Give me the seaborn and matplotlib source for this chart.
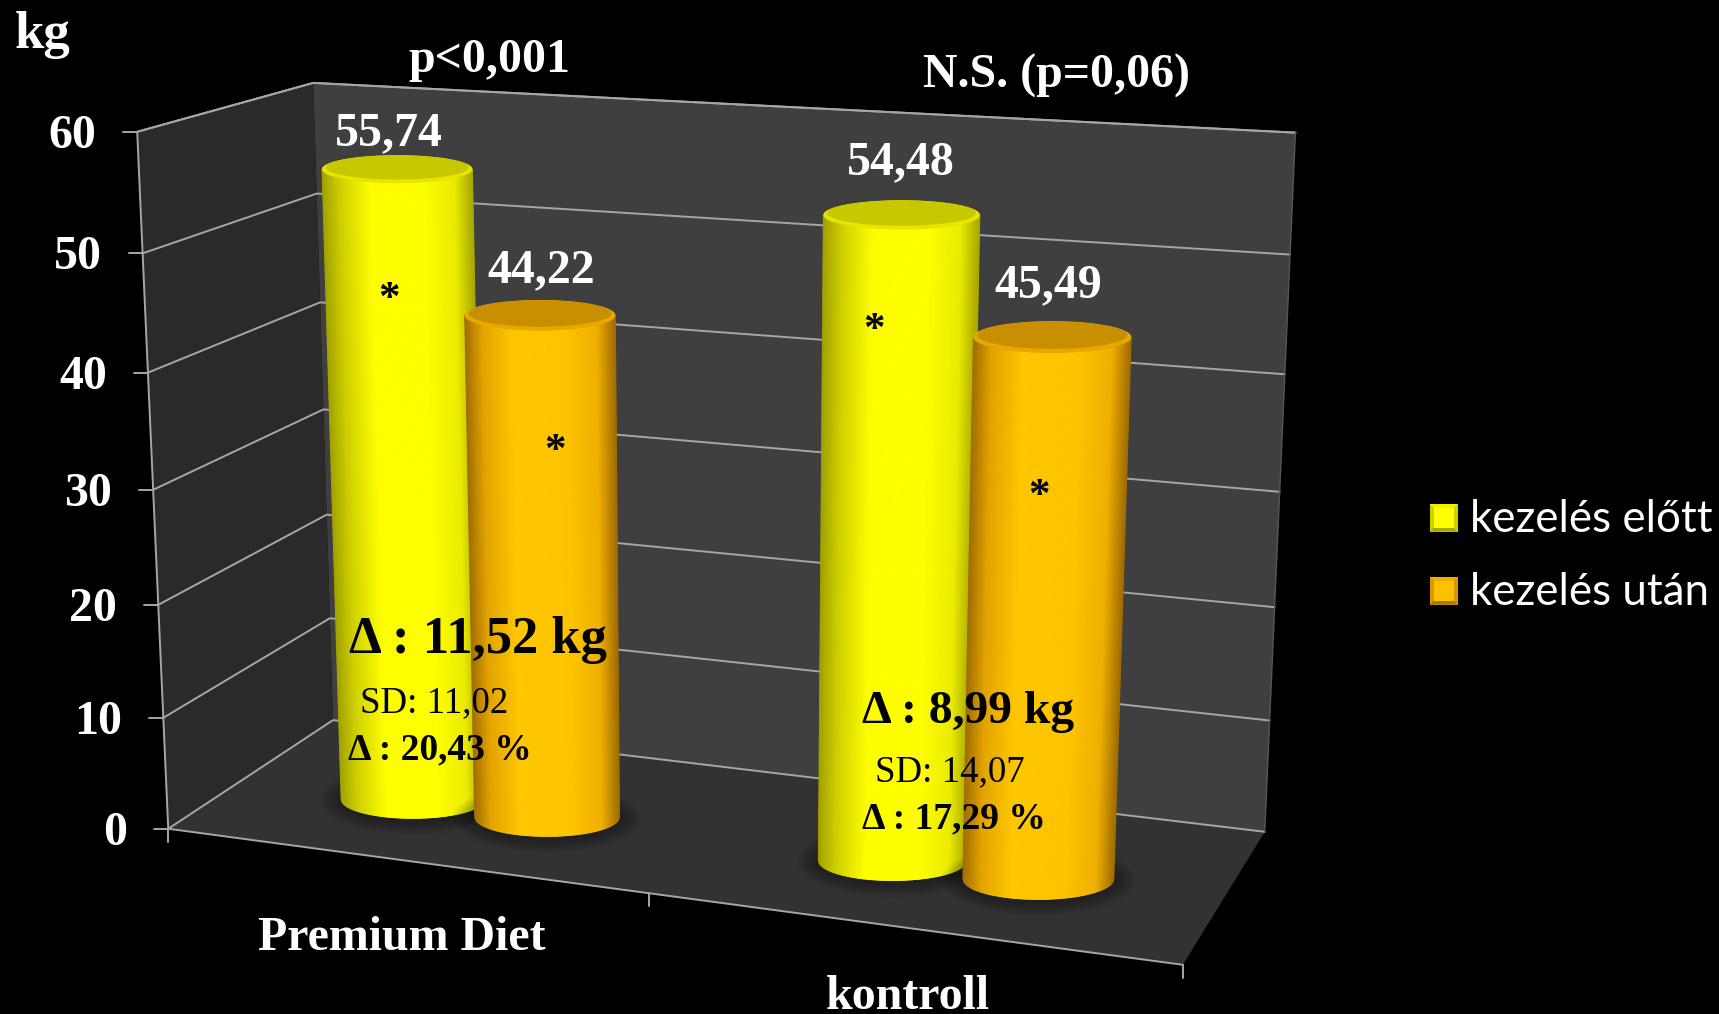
import numpy as np
import pandas as pd
import seaborn as sns
import matplotlib
matplotlib.use("Agg")
import matplotlib.pyplot as plt

# adatok
categories = ["Premium Diet", "kontroll"]
series = ["kezelés előtt", "kezelés után"]
before = [55.74, 54.48]
after = [44.22, 45.49]
delta_kg = ["11,52", "8,99"]
sd = ["11,02", "14,07"]
delta_pct = ["20,43", "17,29"]
p_labels = ["p<0,001", "N.S. (p=0,06)"]
y_ticks = [0, 10, 20, 30, 40, 50, 60]

sns.set_theme(style="dark", rc={"figure.facecolor": "black", "axes.facecolor": "black"})
plt.rcParams["font.family"] = ["Liberation Serif", "DejaVu Serif"]

fig = plt.figure(figsize=(17.19, 10.14), dpi=100)
ax = fig.add_axes([0, 0, 1, 1])

# kamera illesztese a 3D doboz sarkaira (x kategoria, d melyseg, v kg)
calib = [
    (0, 0, 0, 168, 829), (0, 0, 10, 164, 717), (0, 0, 20, 158, 604), (0, 0, 30, 154, 490),
    (0, 0, 40, 147, 373), (0, 0, 50, 142, 254), (0, 0, 60, 137.5, 132),
    (0, 1, 0, 332, 720), (0, 1, 10, 330, 618), (0, 1, 20, 327, 517), (0, 1, 30, 324, 409),
    (0, 1, 40, 321, 302), (0, 1, 50, 317, 193), (0, 1, 60, 312.5, 82.3),
    (2, 1, 0, 1264.6, 832), (2, 1, 10, 1269, 720), (2, 1, 20, 1275, 607), (2, 1, 30, 1280, 492),
    (2, 1, 40, 1285, 374), (2, 1, 50, 1290, 255), (2, 1, 60, 1295, 132.7),
    (2, 0, 0, 1183.6, 965), (1, 0, 0, 648, 893),
]
rows = []
for x, d, v, px, py in calib:
    X = [x, d, v / 60, 1]
    u, w = px / 1000, py / 1000
    rows.append(X + [0, 0, 0, 0] + [-u * c for c in X])
    rows.append([0, 0, 0, 0] + X + [-w * c for c in X])
P = np.linalg.svd(np.array(rows))[2][-1].reshape(3, 4)


def proj(x, d, v):
    q = P @ np.array([x, d, v / 60, 1.0])
    return q[0] / q[2] * 1000, q[1] / q[2] * 1000


def plane(pts, **kw):
    xy = np.array([proj(*p) for p in pts], dtype=float)
    ax.fill(xy[:, 0], xy[:, 1], lw=0, **kw)


plane([(0, 0, 0), (0, 1, 0), (0, 1, 60), (0, 0, 60)], color="#2a2a2a", zorder=1)
plane([(0, 1, 0), (2, 1, 0), (2, 1, 60), (0, 1, 60)], color="#3f3f3f", zorder=1)
plane([(0, 0, 0), (2, 0, 0), (2, 1, 0), (0, 1, 0)], color="#323232", zorder=1)

# racsvonalak
grid = []
n = 0
for t in y_ticks:
    for xx, dd in [(0, 0), (0, 1), (2, 1)]:
        px, py = proj(xx, dd, t)
        grid.append({"line": n, "px": px, "py": py})
    n += 1
for pts in ([(0, 0, 0), (0, 0, 60)], [(0, 0, 0), (2, 0, 0)], [(0, 0, 60), (0, 1, 60), (2, 1, 60)]):
    for p in pts:
        px, py = proj(*p)
        grid.append({"line": n, "px": px, "py": py})
    n += 1
grid = pd.DataFrame(grid)
sns.lineplot(data=grid, x="px", y="py", units="line", estimator=None, sort=False,
             color="#a6a6a6", lw=1.4, legend=False, ax=ax, zorder=2)

# jelolovonalak
for t in y_ticks:
    px, py = proj(0, 0, t)
    ax.plot([px - 14, px], [py, py], color="#a6a6a6", lw=1.4, zorder=2)
    ax.text(px - 41, py + 16, str(t), color="white", fontsize=34.5, fontweight="bold",
            ha="right", va="baseline", zorder=6)
for xx in [0, 1, 2]:
    px, py = proj(xx, 0, 0)
    ax.plot([px, px], [py, py + 13], color="#a6a6a6", lw=1.4, zorder=2)
px, py = proj(2, 1, 0)
qx, qy = proj(2, 1, 60)
ax.plot([px, qx], [py, qy], color="#565656", lw=1, zorder=2)

yellow_stops = ["#a0a000", "#d0d000", "#ffff00", "#ffff00", "#ecec00", "#a8a800"]
orange_stops = ["#a06c00", "#e4a400", "#ffc800", "#ffc400", "#f0b000", "#a06c00"]
stop_pos = [0, 0.12, 0.32, 0.68, 0.88, 1]
rd = 0.09


def ellipse_size(xc, dc, v, rx):
    a = (proj(xc + rx, dc, v)[0] - proj(xc - rx, dc, v)[0]) / 2
    b = 9 + rd * (proj(xc, 0, v)[1] - proj(xc, 1, v)[1])
    return a, b


def cylinder(xc, dc, value, rx, stops, cap, rim, z):
    bx, by = proj(xc, dc, 0)
    tx, ty = proj(xc, dc, value)
    ba, bb = ellipse_size(xc, dc, 0, rx)
    ta, tb = ellipse_size(xc, dc, value, rx)
    th = np.linspace(0, 2 * np.pi, 181)
    # arnyek a padlon
    for k in range(7):
        ax.fill(bx + (ba + 3 * (k + 1)) * np.cos(th), by + 1 + (bb + 2.2 * (k + 1)) * np.sin(th),
                color="black", alpha=0.05, lw=0, zorder=z - 0.5)
    rgb = np.array(sns.color_palette(stops))
    us = np.linspace(-1, 1, 161)
    for u0, u1 in zip(us[:-1], us[1:]):
        t = (u0 + u1 + 2) / 4
        col = [np.interp(t, stop_pos, rgb[:, c]) for c in range(3)]
        xs = [bx + ba * u0, bx + ba * u1, tx + ta * u1, tx + ta * u0]
        ys = [by + bb * np.sqrt(1 - u0 ** 2), by + bb * np.sqrt(1 - u1 ** 2),
              ty + tb * np.sqrt(1 - u1 ** 2), ty + tb * np.sqrt(1 - u0 ** 2)]
        ax.fill(xs, ys, color=col, lw=0.6, zorder=z)
    ax.fill(tx + ta * np.cos(th), ty + tb * np.sin(th), color=rim, lw=0, zorder=z + 0.1)
    ax.fill(tx + 0.95 * ta * np.cos(th), ty - 0.12 * tb + 0.86 * tb * np.sin(th), color=cap, lw=0, zorder=z + 0.2)


bar_x = [(0.373, 0.664), (1.371, 1.655)]
bar_d = [(0.445, 0.44), (0.445, 0.445)]
bar_r = [(0.157, 0.154), (0.147, 0.145)]
yellow_lab = [(335, 145), (847, 174)]
orange_lab = [(487, 282), (994, 297)]
star_y = [(389, 292), (874, 323)]
star_o = [(555, 444), (1039, 489)]
for i in range(2):
    cylinder(bar_x[i][0], bar_d[i][0], before[i], bar_r[i][0], yellow_stops, "#c8c800", "#e6e600", 3 + 2 * i)
    cylinder(bar_x[i][1], bar_d[i][1], after[i], bar_r[i][1], orange_stops, "#c89000", "#e8a800", 4 + 2 * i)

txt = dict(color="white", fontsize=34.5, fontweight="bold", va="baseline", ha="left", zorder=10)
ax.text(14.5, 47.7, "kg", **{**txt, "fontsize": 38})
ax.text(408, 72, p_labels[0], **txt)
ax.text(923, 88, p_labels[1], **txt)
ax.text(258, 950, categories[0], **txt)
ax.text(826, 1009, categories[1], **txt)
for i in range(2):
    ax.text(*yellow_lab[i], f"{before[i]:.2f}".replace(".", ","), **txt)
    ax.text(*orange_lab[i], f"{after[i]:.2f}".replace(".", ","), **txt)
    for sx, sy in (star_y[i], star_o[i]):
        ax.text(sx, sy + 18, "*", color="black", fontsize=31, fontweight="bold",
                ha="center", va="baseline", zorder=10)

dark = dict(color="black", va="baseline", ha="left", zorder=10)
ax.text(349, 653, f"Δ : {delta_kg[0]} kg", fontsize=37.8, fontweight="bold", **dark)
ax.text(360, 712, f"SD: {sd[0]}", fontsize=26.6, **dark)
ax.text(348, 759, f"Δ : {delta_pct[0]} %", fontsize=27, fontweight="bold", **dark)
ax.text(862, 723, f"Δ : {delta_kg[1]} kg", fontsize=34.2, fontweight="bold", **dark)
ax.text(875, 781, f"SD: {sd[1]}", fontsize=26.6, **dark)
ax.text(862, 828, f"Δ : {delta_pct[1]} %", fontsize=27, fontweight="bold", **dark)

# jelmagyarazat
leg_cols = [("#ffff00", "#f0f000", "#d0d000", "#a8a800"), ("#ffc000", "#f0b000", "#d89800", "#a87800")]
for i, y0 in enumerate([504, 577]):
    x0, s, b = 1430, 27.5, 4
    c, t, m, bt = leg_cols[i]
    ax.fill([x0, x0 + s, x0 + s, x0], [y0, y0, y0 + s, y0 + s], color=m, lw=0, zorder=5)
    ax.fill([x0, x0 + s, x0 + s - b, x0 + b], [y0, y0, y0 + b, y0 + b], color=t, lw=0, zorder=5)
    ax.fill([x0, x0 + s, x0 + s - b, x0 + b], [y0 + s, y0 + s, y0 + s - b, y0 + s - b], color=bt, lw=0, zorder=5)
    ax.fill([x0 + b, x0 + s - b, x0 + s - b, x0 + b], [y0 + b, y0 + b, y0 + s - b, y0 + s - b], color=c, lw=0, zorder=5)
    ax.text(1470, y0 + 28, series[i], color="white", fontsize=31.6, family=["Lato", "DejaVu Sans"],
            ha="left", va="baseline", zorder=6)

ax.set_xlim(0, 1719)
ax.set_ylim(1014, 0)
ax.axis("off")
fig.savefig("out.png", dpi=100, facecolor="black")
